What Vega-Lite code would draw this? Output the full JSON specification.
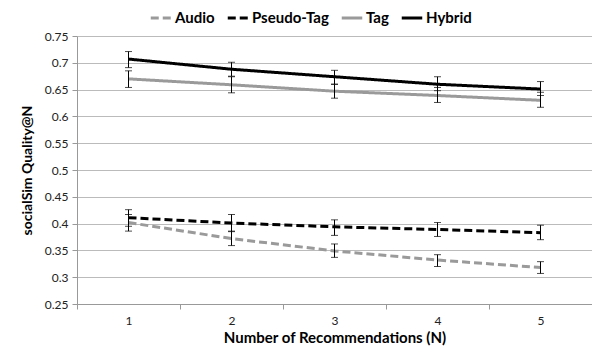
{
  "$schema": "https://vega.github.io/schema/vega-lite/v6.json",
  "width": 515,
  "height": 268,
  "autosize": {"type": "none"},
  "padding": {"left": 77, "top": 36, "right": 0, "bottom": 48},
  "background": "white",
  "config": {
    "font": "Lato",
    "view": {"stroke": null},
    "axis": {"labelFont": "Lato", "titleFont": "Lato"},
    "axisY": {
      "titleFontSize": 14,
      "titleFontWeight": "bold",
      "titleColor": "#000",
      "titlePadding": 10,
      "labelOverlap": false,
      "labelFontSize": 12,
      "labelColor": "#222",
      "labelPadding": 4,
      "tickColor": "#999",
      "tickSize": 5,
      "domainColor": "#999",
      "grid": true,
      "gridColor": "#bbbbbb",
      "gridWidth": 1
    },
    "legend": {"labelFont": "Lato"}
  },
  "data": {
    "values": [
      {"series": "Audio", "n": "1", "value": 0.402, "lo": 0.386, "hi": 0.417},
      {"series": "Audio", "n": "2", "value": 0.372, "lo": 0.359, "hi": 0.386},
      {"series": "Audio", "n": "3", "value": 0.349, "lo": 0.337, "hi": 0.362},
      {"series": "Audio", "n": "4", "value": 0.332, "lo": 0.320, "hi": 0.342},
      {"series": "Audio", "n": "5", "value": 0.318, "lo": 0.307, "hi": 0.329},
      {"series": "Pseudo-Tag", "n": "1", "value": 0.411, "lo": 0.395, "hi": 0.426},
      {"series": "Pseudo-Tag", "n": "2", "value": 0.401, "lo": 0.385, "hi": 0.417},
      {"series": "Pseudo-Tag", "n": "3", "value": 0.394, "lo": 0.378, "hi": 0.407},
      {"series": "Pseudo-Tag", "n": "4", "value": 0.389, "lo": 0.376, "hi": 0.402},
      {"series": "Pseudo-Tag", "n": "5", "value": 0.383, "lo": 0.370, "hi": 0.397},
      {"series": "Tag", "n": "1", "value": 0.670, "lo": 0.654, "hi": 0.685},
      {"series": "Tag", "n": "2", "value": 0.659, "lo": 0.644, "hi": 0.674},
      {"series": "Tag", "n": "3", "value": 0.647, "lo": 0.634, "hi": 0.660},
      {"series": "Tag", "n": "4", "value": 0.639, "lo": 0.626, "hi": 0.654},
      {"series": "Tag", "n": "5", "value": 0.630, "lo": 0.617, "hi": 0.645},
      {"series": "Hybrid", "n": "1", "value": 0.707, "lo": 0.691, "hi": 0.721},
      {"series": "Hybrid", "n": "2", "value": 0.688, "lo": 0.675, "hi": 0.701},
      {"series": "Hybrid", "n": "3", "value": 0.674, "lo": 0.660, "hi": 0.686},
      {"series": "Hybrid", "n": "4", "value": 0.660, "lo": 0.648, "hi": 0.674},
      {"series": "Hybrid", "n": "5", "value": 0.651, "lo": 0.639, "hi": 0.665}
    ]
  },
  "encoding": {
    "x": {
      "field": "n",
      "type": "ordinal",
      "scale": {"type": "band", "paddingInner": 0, "paddingOuter": 0},
      "axis": {
        "title": "Number of Recommendations (N)",
        "titleFontSize": 15,
        "titleFontWeight": "bold",
        "titleColor": "#000",
        "titlePadding": 4,
        "labelAngle": 0,
        "labelFontSize": 12,
        "labelColor": "#222",
        "labelPadding": 6,
        "tickBand": "extent",
        "tickColor": "#999",
        "tickSize": 5,
        "domainColor": "#999",
        "grid": false
      }
    }
  },
  "layer": [
    {
      "mark": {"type": "line", "strokeWidth": 3},
      "encoding": {
        "y": {
          "field": "value",
          "type": "quantitative",
          "title": "socialSim Quality@N",
          "scale": {"domain": [0.25, 0.75], "nice": false, "zero": false},
          "axis": {"values": [0.25, 0.3, 0.35, 0.4, 0.45, 0.5, 0.55, 0.6, 0.65, 0.7, 0.75], "format": ".2~f"}
        },
        "color": {
          "field": "series",
          "type": "nominal",
          "scale": {"domain": ["Audio", "Pseudo-Tag", "Tag", "Hybrid"], "range": ["#9a9a9a", "#000000", "#9a9a9a", "#000000"]},
          "legend": {
            "title": null,
            "orient": "none",
            "legendX": 72,
            "legendY": -30,
            "direction": "horizontal",
            "symbolType": "stroke",
            "symbolStrokeWidth": 3,
            "symbolSize": 420,
            "labelFontSize": 15,
            "labelFontWeight": "bold",
            "labelColor": "#000",
            "labelOffset": 2,
            "columnPadding": 6
          }
        },
        "strokeDash": {
          "field": "series",
          "type": "nominal",
          "scale": {"domain": ["Audio", "Pseudo-Tag", "Tag", "Hybrid"], "range": [[8, 4], [8, 4], [1, 0], [1, 0]]},
          "legend": {
            "title": null,
            "orient": "none",
            "legendX": 72,
            "legendY": -30,
            "direction": "horizontal",
            "symbolType": "stroke",
            "symbolStrokeWidth": 3,
            "symbolSize": 420,
            "labelFontSize": 15,
            "labelFontWeight": "bold",
            "labelColor": "#000",
            "labelOffset": 2,
            "columnPadding": 6
          }
        },
        "order": {"field": "n"}
      }
    },
    {
      "mark": {"type": "errorbar", "ticks": {"size": 7, "color": "#000", "strokeWidth": 1}, "rule": {"color": "#000", "strokeWidth": 1}},
      "encoding": {
        "y": {
          "field": "lo",
          "type": "quantitative",
          "title": "socialSim Quality@N",
          "scale": {"domain": [0.25, 0.75], "nice": false, "zero": false},
          "axis": {"values": [0.25, 0.3, 0.35, 0.4, 0.45, 0.5, 0.55, 0.6, 0.65, 0.7, 0.75], "format": ".2~f"}
        },
        "y2": {"field": "hi"}
      }
    }
  ]
}
